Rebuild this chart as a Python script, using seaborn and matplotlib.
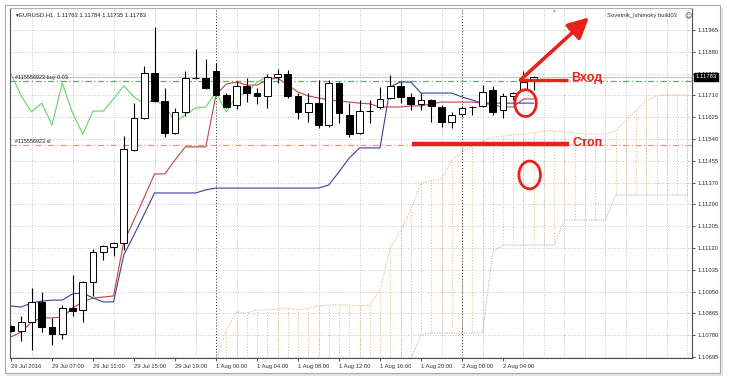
import numpy as np
import pandas as pd
import matplotlib
matplotlib.use("Agg")
import matplotlib.pyplot as plt
from matplotlib.patches import Ellipse, Rectangle
import seaborn as sns

# ---------------- data (EURUSD H1) ----------------
time_labels = ["29 Jul 2016", "29 Jul 07:00", "29 Jul 11:00", "29 Jul 15:00",
               "29 Jul 19:00", "1 Aug 00:00", "1 Aug 04:00", "1 Aug 08:00",
               "1 Aug 12:00", "1 Aug 16:00", "1 Aug 20:00", "2 Aug 00:00",
               "2 Aug 04:00"]
price_labels = ["1.10695", "1.10780", "1.10865", "1.10950", "1.11035", "1.11120",
                "1.11205", "1.11290", "1.11370", "1.11455", "1.11540", "1.11625",
                "1.11710", "1.11795", "1.11880", "1.11965"]

opens = [1.10815, 1.10796, 1.10831, 1.10909, 1.10812, 1.10784, 1.10885, 1.10878,
         1.10986, 1.11103, 1.11122, 1.11138, 1.11499, 1.11623, 1.11798, 1.11689,
         1.11565, 1.11647, 1.11779, 1.11779, 1.11806, 1.11713, 1.11674, 1.11748,
         1.11720, 1.11709, 1.11782, 1.11794, 1.11709, 1.11647, 1.11681, 1.11596,
         1.11759, 1.11635, 1.11565, 1.11650, 1.11666, 1.11701, 1.11748, 1.11705,
         1.11678, 1.11693, 1.11666, 1.11608, 1.11639, 1.11666, 1.11670, 1.11732,
         1.11654, 1.11709, 1.11732, 1.11771]
highs = [1.10819, 1.10854, 1.10963, 1.10947, 1.10847, 1.10897, 1.11014, 1.10990,
         1.11114, 1.11130, 1.11142, 1.11553, 1.11681, 1.11825, 1.11977, 1.11740,
         1.11662, 1.11806, 1.11891, 1.11852, 1.11837, 1.11720, 1.11767, 1.11779,
         1.11740, 1.11794, 1.11814, 1.11810, 1.11720, 1.11720, 1.11771, 1.11771,
         1.11763, 1.11681, 1.11693, 1.11693, 1.11744, 1.11790, 1.11763, 1.11720,
         1.11720, 1.11697, 1.11674, 1.11647, 1.11670, 1.11670, 1.11751, 1.11748,
         1.11720, 1.11724, 1.11806, 1.11786]
lows = [1.10792, 1.10757, 1.10722, 1.10792, 1.10742, 1.10765, 1.10854, 1.10831,
        1.10932, 1.11072, 1.11087, 1.11111, 1.11495, 1.11619, 1.11685, 1.11549,
        1.11561, 1.11631, 1.11775, 1.11736, 1.11709, 1.11662, 1.11658, 1.11685,
        1.11678, 1.11662, 1.11759, 1.11701, 1.11619, 1.11608, 1.11584, 1.11588,
        1.11604, 1.11549, 1.11561, 1.11604, 1.11658, 1.11697, 1.11681, 1.11654,
        1.11654, 1.11608, 1.11588, 1.11584, 1.11627, 1.11635, 1.11666, 1.11635,
        1.11623, 1.11693, 1.11728, 1.11732]
closes = [1.10796, 1.10831, 1.10909, 1.10812, 1.10784, 1.10885, 1.10874, 1.10986,
          1.11103, 1.11126, 1.11138, 1.11503, 1.11623, 1.11798, 1.11689, 1.11565,
          1.11647, 1.11779, 1.11779, 1.11740, 1.11713, 1.11666, 1.11748, 1.11720,
          1.11709, 1.11782, 1.11794, 1.11709, 1.11647, 1.11681, 1.11596, 1.11759,
          1.11643, 1.11561, 1.11650, 1.11650, 1.11697, 1.11748, 1.11705, 1.11678,
          1.11693, 1.11670, 1.11608, 1.11635, 1.11662, 1.11666, 1.11724, 1.11647,
          1.11709, 1.11720, 1.11763, 1.11783]

tenkan = [1.10773, 1.10792, 1.10831, 1.10847, 1.10847, 1.10850, 1.10885, 1.10909,
          1.10924, 1.10928, 1.10932, 1.11142, 1.11227, 1.11316, 1.11406, 1.11406,
          1.11460, 1.11511, 1.11511, 1.11511, 1.11713, 1.11755, 1.11763, 1.11751,
          1.11751, 1.11771, 1.11779, 1.11751, 1.11724, 1.11709, 1.11701, 1.11693,
          1.11689, 1.11685, 1.11681, 1.11678, 1.11666, 1.11666, 1.11666, 1.11670,
          1.11670, 1.11678, 1.11685, 1.11685, 1.11685, 1.11685, 1.11681, 1.11674,
          1.11666, 1.11666, 1.11697, 1.11697]
kijun = [1.10893, 1.10889, 1.10905, 1.10912, 1.10916, 1.10916, 1.10940, 1.10944,
         1.10924, 1.10909, 1.10909, 1.11091, 1.11169, 1.11250, 1.11332, 1.11332,
         1.11332, 1.11332, 1.11332, 1.11344, 1.11351, 1.11351, 1.11351, 1.11351,
         1.11351, 1.11351, 1.11351, 1.11351, 1.11351, 1.11351, 1.11351, 1.11363,
         1.11414, 1.11468, 1.11507, 1.11507, 1.11507, 1.11744, 1.11763, 1.11763,
         1.11720, 1.11720, 1.11720, 1.11720, 1.11705, 1.11693, 1.11681, 1.11681,
         1.11681, 1.11681, 1.11681, 1.11681]

cloud_start = 15
span_a = [1.10645, 1.10695, 1.10664, 1.10606, 1.10606, 1.10683, 1.10800, 1.10870,
          1.10866, 1.10878, 1.10878, 1.10881, 1.10885, 1.10878, 1.10885, 1.10893,
          1.10897, 1.10897, 1.10897, 1.10893, 1.10897, 1.10955, 1.11118, 1.11184,
          1.11266, 1.11371, 1.11379, 1.11386, 1.11460, 1.11491, 1.11515, 1.11534,
          1.11549, 1.11553, 1.11557, 1.11561, 1.11565, 1.11573, 1.11573, 1.11569,
          1.11565, 1.11561, 1.11561, 1.11561, 1.11573, 1.11615, 1.11654, 1.11693,
          1.11709, 1.11713, 1.11713, 1.11713]
span_b = [1.10528, 1.10528, 1.10528, 1.10528, 1.10528, 1.10528, 1.10528, 1.10528,
          1.10528, 1.10528, 1.10528, 1.10528, 1.10528, 1.10528, 1.10528, 1.10528,
          1.10528, 1.10528, 1.10528, 1.10528, 1.10528, 1.10528, 1.10528, 1.10528,
          1.10683, 1.10781, 1.10788, 1.10788, 1.10788, 1.10788, 1.10788, 1.10788,
          1.11103, 1.11130, 1.11130, 1.11130, 1.11130, 1.11130, 1.11130, 1.11227,
          1.11227, 1.11227, 1.11227, 1.11227, 1.11324, 1.11324, 1.11324, 1.11324,
          1.11324, 1.11324, 1.11324, 1.11324]

bid = 1.11783
buy_price = 1.11767
sl_price = 1.11518

# ---------------- figure ----------------
sns.set_theme(style="white")
plt.rcParams["font.family"] = ["Liberation Sans", "DejaVu Sans"]

W, H = 729, 381
fig = plt.figure(figsize=(W / 100, H / 100), dpi=100)
fig.patch.set_facecolor("white")
ax = fig.add_axes([10 / W, 1 - 358 / H, (692 - 10) / W, (358 - 8) / H])
ax.set_facecolor("white")

n = len(closes)
bars = np.arange(n)
ax.set_xlim(-0.1, 66.44)
ax.set_ylim(1.106911, 1.120504)

# grid
yt = [1.10695 + i * 0.0127 / 15 for i in range(16)]
ax.set_yticks(yt)
ax.set_yticklabels(price_labels)
ax.set_xticks(np.arange(0, 4 * len(time_labels), 4))
ax.set_xticklabels(time_labels)
ax.set_xticks(np.arange(0, 67, 2), minor=True)
grid_kw = dict(color="#b4b4b4", linestyle=(0, (1, 2)), linewidth=0.6)
ax.grid(True, which="major", axis="y", **grid_kw)
ax.grid(True, which="minor", axis="x", **grid_kw)
ax.set_axisbelow(True)

# cloud (Senkou spans as dotted histogram)
cb = np.arange(cloud_start, cloud_start + len(span_a))
lo = np.minimum(span_a, span_b)
hi = np.maximum(span_a, span_b)
ax.vlines(cb, lo, hi, colors="#e6c29c", linestyles=(0, (1, 1.6)), linewidth=0.8, zorder=1)
cloud_df = pd.DataFrame({"bar": cb, "a": span_a, "b": span_b})
sns.lineplot(data=cloud_df, x="bar", y="a", ax=ax, color="#e3b98f",
             linestyle=(0, (1, 1.2)), linewidth=0.8, zorder=1.2)
sns.lineplot(data=cloud_df, x="bar", y="b", ax=ax, color="#bdb3c3",
             linestyle=(0, (1, 1.2)), linewidth=0.8, zorder=1.2)

# period separators
for b in (20, 44):
    ax.axvline(b, color="#202020", linestyle=(0, (1, 2)), linewidth=0.7, zorder=1.5)

# order lines
ax.axhline(bid, color="#c4c4c4", linewidth=0.8, zorder=1.6)
ax.axhline(buy_price, color="#6aa86a", linestyle=(0, (5, 2, 1, 2)), linewidth=0.9, zorder=1.6)
ax.axhline(sl_price, color="#e39a80", linestyle=(0, (5, 2, 1, 2)), linewidth=0.9, zorder=1.6)

# Ichimoku lines
lines_df = pd.DataFrame({"bar": bars, "tenkan": tenkan, "kijun": kijun})
sns.lineplot(data=lines_df, x="bar", y="kijun", ax=ax, color="#3c3c9c", linewidth=0.8, zorder=2)
sns.lineplot(data=lines_df, x="bar", y="tenkan", ax=ax, color="#c04444", linewidth=0.8, zorder=2.1)
chikou_df = pd.DataFrame({"bar": bars[:n - 26], "chikou": closes[26:]})
sns.lineplot(data=chikou_df, x="bar", y="chikou", ax=ax, color="#62d462", linewidth=0.8, zorder=2.2)

# candles
o = np.array(opens); c = np.array(closes)
ax.vlines(bars, lows, highs, colors="black", linewidth=0.8, zorder=3)
body_lo = np.minimum(o, c)
body_h = np.maximum(np.abs(c - o), 0.000004)
fill = ["white" if cc >= oo else "black" for oo, cc in zip(o, c)]
ax.bar(bars, body_h, bottom=body_lo, width=0.64, color=fill, edgecolor="black",
       linewidth=0.7, zorder=3.1)

# annotations in red
red = "#e8211b"
ax.plot([39.1, 54.4], [sl_price + 0.00004, sl_price + 0.00004], color=red, linewidth=3.2,
        solid_capstyle="butt", zorder=4)
ax.plot([49.7, 54.3], [1.11771, 1.11771], color=red, linewidth=2.4,
        solid_capstyle="butt", zorder=4)
ax.annotate("", xy=(56.4, 1.12014), xytext=(49.7, 1.11771),
            arrowprops=dict(arrowstyle="-|>,head_length=0.9,head_width=0.45", lw=2.6,
                            color=red, mutation_scale=14, shrinkA=0, shrinkB=0), zorder=4)
ax.add_patch(Ellipse((50.2, 1.11681), 2.1, 0.00104, fill=False, edgecolor=red, lw=2.0, zorder=4))
ax.add_patch(Ellipse((50.6, 1.11402), 2.1, 0.00108, fill=False, edgecolor=red, lw=2.0, zorder=4))
ax.text(54.6, 1.11779, "Вход", color=red, fontsize=9, fontweight="bold", va="center",
        ha="left", zorder=5)
ax.text(54.8, 1.11526, "Стоп", color=red, fontsize=9, fontweight="bold", va="center",
        ha="left", zorder=5)

# order labels
ax.text(0.4, 1.11779, "#115556923 buy 0.03", fontsize=4, color="#202020", va="center", ha="left", zorder=5)
ax.text(0.4, 1.11530, "#115556923 sl", fontsize=4, color="#202020", va="center", ha="left", zorder=5)

# axes styling
for side in ("left", "bottom", "right", "top"):
    ax.spines[side].set_visible(True)
    ax.spines[side].set_linewidth(0.8)
    ax.spines[side].set_color("#505050")
ax.spines["top"].set_color("#b0b0b0")
ax.yaxis.tick_right()
ax.tick_params(axis="y", which="major", right=True, left=False, length=2.5, width=0.6,
               pad=1.5, labelsize=4.2, colors="#303030")
ax.tick_params(axis="x", which="major", bottom=True, length=2.5, width=0.6, pad=1.5,
               labelsize=4.2, colors="#303030")
ax.tick_params(axis="x", which="minor", length=0)
for lab in ax.get_xticklabels():
    lab.set_horizontalalignment("left")
ax.set_xlabel("")
ax.set_ylabel("")

# current price tag
ax.annotate("1.11783", xy=(1.0, bid), xycoords=("axes fraction", "data"),
            xytext=(2.5, 0), textcoords="offset points", ha="left", va="center",
            fontsize=4.2, color="white", zorder=6, annotation_clip=False,
            bbox=dict(boxstyle="square,pad=0.25", facecolor="black", edgecolor="black"))

# header texts
fig.text(14 / W, 1 - 15 / H, "▼", fontsize=3.5, color="#202020", va="center", ha="left")
fig.text(19 / W, 1 - 15 / H, "EURUSD,H1  1.11763 1.11784 1.11735 1.11783", fontsize=4.2,
         color="#202020", va="center", ha="left")
fig.text(607 / W, 1 - 16 / H, "Sovetnik_Ishimoky build03", fontsize=4.2, color="#303030",
         va="center", ha="left")
fig.text(684 / W, 1 - 16 / H, "☺", fontsize=5, color="#303030", va="center", ha="left",
         family=["DejaVu Sans"])
fig.text(553 / W, 1 - 11 / H, "▼", fontsize=3.5, color="#a0a0a0", va="center", ha="center")

# window frame
fig.patches.append(Rectangle((5 / W, 1 - 373 / H), 715 / W, 368 / H, transform=fig.transFigure,
                             fill=False, edgecolor="#a8a8a8", linewidth=0.8))
fig.patches.append(Rectangle((7 / W, 1 - 376 / H), 716 / W, 2.5 / H, transform=fig.transFigure,
                             facecolor="#e2e2e2", edgecolor="none"))
fig.patches.append(Rectangle((720.5 / W, 1 - 375 / H), 2.5 / W, 367 / H, transform=fig.transFigure,
                             facecolor="#e2e2e2", edgecolor="none"))

fig.savefig("out.png", dpi=100, facecolor="white")
